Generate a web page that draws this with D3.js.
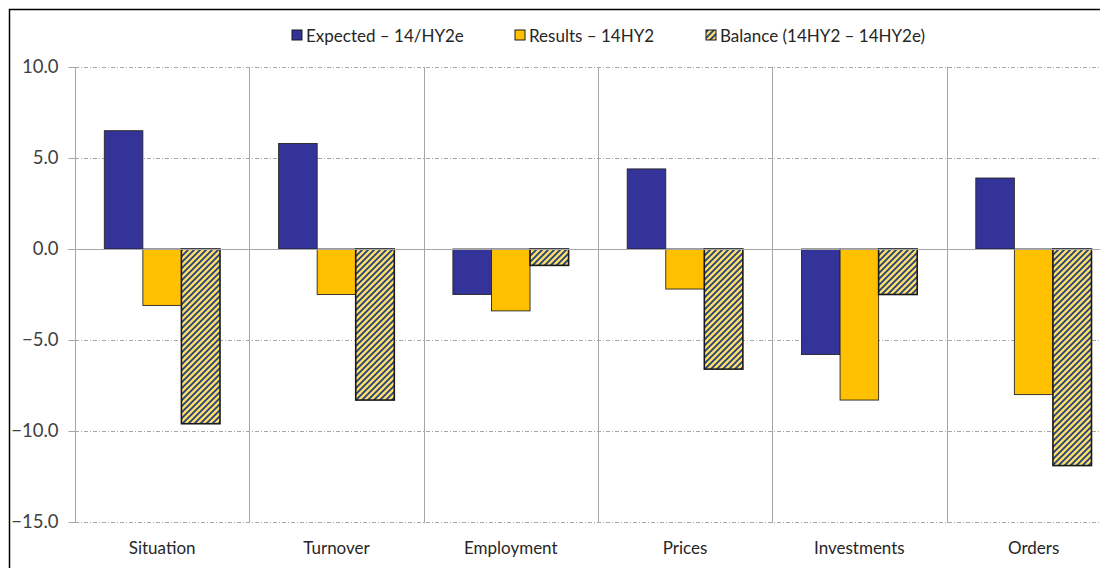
<!DOCTYPE html>
<html>
<head>
<meta charset="utf-8">
<script src="https://cdn.jsdelivr.net/npm/d3@7"></script>
<style>
  html, body { margin: 0; padding: 0; background: #fff; overflow: hidden; }
  svg { display: block; font-family: "Lato", "Noto Sans", sans-serif; }
</style>
</head>
<body>
<svg id="chart" width="1100" height="568"></svg>
<script>
const categories = ["Situation", "Turnover", "Employment", "Prices", "Investments", "Orders"];
const seriesNames = ["Expected \u2013 14/HY2e", "Results \u2013 14HY2", "Balance (14HY2 \u2013 14HY2e)"];
const expected = [6.5, 5.8, -2.5, 4.4, -5.8, 3.9];
const results = [-3.1, -2.5, -3.4, -2.2, -8.3, -8.0];
const balance = [-9.6, -8.3, -0.9, -6.6, -2.5, -11.9];
const yTicks = [10, 5, 0, -5, -10, -15];

const seriesValues = [expected, results, balance];
const fills = ["#333399", "#FFC000", "url(#hatch)"];

const svg = d3.select("#chart");
const W = 1100, H = 568;

// hatch pattern
const defs = svg.append("defs");
const pat = defs.append("pattern")
  .attr("id", "hatch").attr("patternUnits", "userSpaceOnUse")
  .attr("width", 6).attr("height", 6);
pat.append("rect").attr("width", 6).attr("height", 6).attr("fill", "#FFDD6A");
pat.append("path")
  .attr("d", "M0,6 L6,0 M-1.5,1.5 L1.5,-1.5 M4.5,7.5 L7.5,4.5")
  .attr("stroke", "#22407A").attr("stroke-width", 1.8);

const plotLeft = 75, catStep = 174.3;
const plotRight = plotLeft + catStep * categories.length;
const x = d3.scaleBand().domain(categories).range([plotLeft, plotRight]).padding(0);
const xInner = d3.scaleBand().domain([0, 1, 2]).range([0, x.bandwidth()])
  .paddingInner(0).paddingOuter(0.76);
const y = d3.scaleLinear().domain([-15, 10]).range([522, 67]);

// gridlines (dash-dot)
svg.append("g").selectAll("line").data(yTicks.filter(d => d !== 0)).join("line")
  .attr("x1", plotLeft).attr("x2", W)
  .attr("y1", d => Math.round(y(d)) + 0.5).attr("y2", d => Math.round(y(d)) + 0.5)
  .attr("stroke", "#A6A6A6").attr("stroke-width", 1)
  .attr("stroke-dasharray", "4,2,1,2");

// y axis ticks via d3 axis
const yAxis = d3.axisLeft(y).tickValues(yTicks).tickSize(7).tickPadding(10)
  .tickFormat(d3.format(".1f"));
const gy = svg.append("g").attr("transform", `translate(${plotLeft + 0.5},0)`).call(yAxis);
gy.select(".domain").remove();
gy.selectAll(".tick line").attr("stroke", "#A6A6A6");
gy.selectAll(".tick text")
  .attr("fill", "#404040").style("font-size", "18.5px")
  .style("font-family", "Lato, sans-serif");

// vertical category separators
const seps = d3.range(categories.length).map(i => plotLeft + i * catStep);
svg.append("g").selectAll("line").data(seps).join("line")
  .attr("x1", d => Math.round(d) + 0.5).attr("x2", d => Math.round(d) + 0.5)
  .attr("y1", y(10)).attr("y2", y(-15) + 1)
  .attr("stroke", "#A6A6A6").attr("stroke-width", 1);

// bars
const rows = [];
categories.forEach((c, ci) => {
  seriesValues.forEach((vals, si) => rows.push({ c, si, v: vals[ci] }));
});
svg.append("g").selectAll("rect").data(rows).join("rect")
  .attr("x", d => x(d.c) + xInner(d.si))
  .attr("width", xInner.bandwidth())
  .attr("y", d => y(Math.max(0, d.v)))
  .attr("height", d => Math.abs(y(d.v) - y(0)))
  .attr("fill", d => fills[d.si])
  .attr("stroke", d => d.si === 2 ? "#1a1a1a" : "#262626")
  .attr("stroke-width", d => d.si === 2 ? 1.6 : 0.9);

// zero line
svg.append("line")
  .attr("x1", 68).attr("x2", W)
  .attr("y1", Math.round(y(0)) + 0.5).attr("y2", Math.round(y(0)) + 0.5)
  .attr("stroke", "#A6A6A6").attr("stroke-width", 1.2);

// x axis labels
const xAxis = d3.axisBottom(x).tickSize(0).tickPadding(20);
const gx = svg.append("g").attr("transform", `translate(0,${y(-15)})`).call(xAxis);
gx.select(".domain").remove();
gx.selectAll(".tick text")
  .attr("fill", "#262626").style("font-size", "17px")
  .style("font-family", "Lato, sans-serif");

// legend
const legendX = [292, 515, 706];
const lg = svg.append("g");
seriesNames.forEach((name, i) => {
  lg.append("rect").attr("x", legendX[i]).attr("y", 30).attr("width", 10).attr("height", 10)
    .attr("fill", fills[i]).attr("stroke", "#1a1a1a").attr("stroke-width", 1);
  lg.append("text").attr("x", legendX[i] + 14).attr("y", 42)
    .attr("fill", "#262626").style("font-size", "17px").text(name);
});

// outer frame
svg.append("rect").attr("x", 9.5).attr("y", 9.5).attr("width", W + 20).attr("height", H + 20)
  .attr("fill", "none").attr("stroke", "#000").attr("stroke-width", 1.5);
</script>
</body>
</html>
